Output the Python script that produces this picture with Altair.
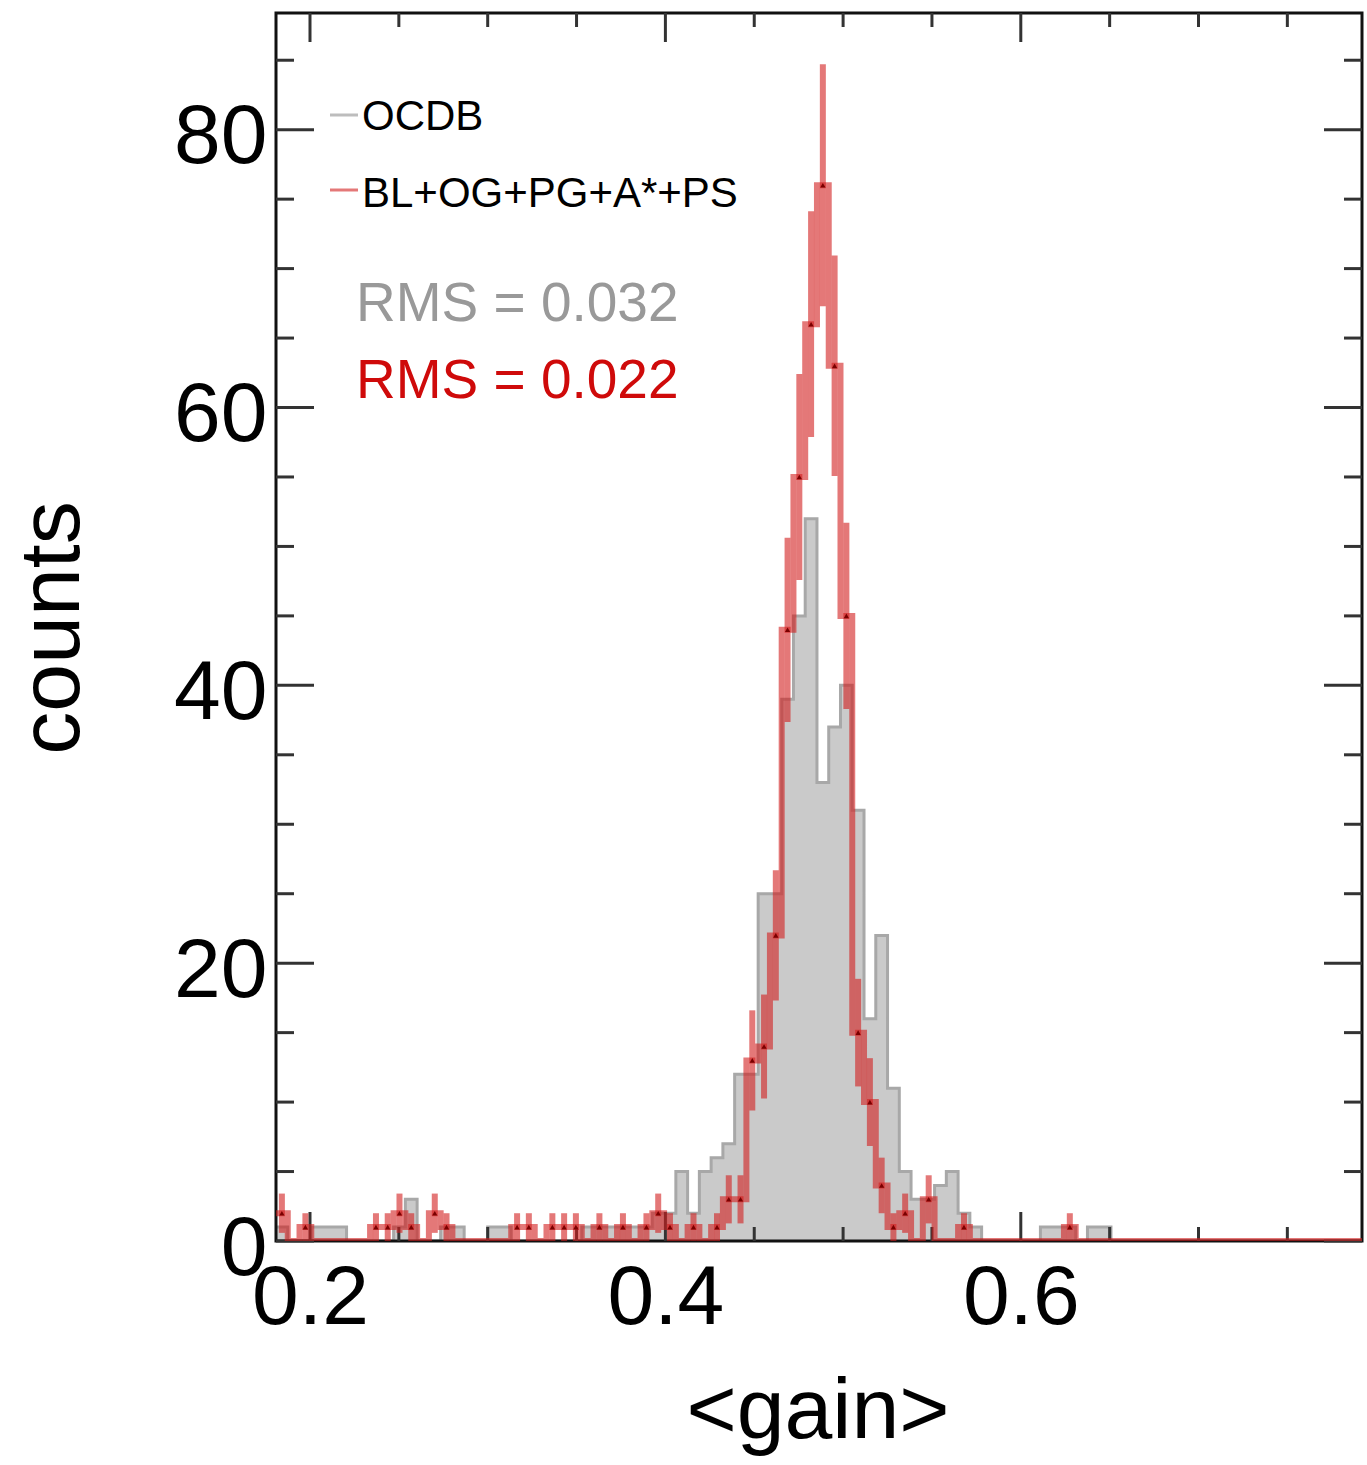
import altair as alt
import pandas as pd

# ---------------- data ----------------
BIN_START = 0.18087      # lower edge of the first histogram bin
BIN_WIDTH = 0.006618     # histogram bin width in <gain>
X_DOMAIN = [0.18087, 0.79201]
Y_DOMAIN = [0, 88.4]

# OCDB histogram (grey, filled)
ocdb_counts = [
    1, 0, 0, 1, 1, 1, 0, 0, 0, 0,
    1, 3, 0, 0, 1, 1, 0, 0, 1, 1,
    0, 0, 0, 0, 0, 0, 1, 1, 1, 1,
    1, 1, 2, 2, 5, 2, 5, 6, 7, 12,
    12, 25, 25, 39, 45, 52, 33, 37, 40, 31,
    16, 22, 11, 5, 3, 3, 4, 5, 2, 1,
    0, 0, 0, 0, 0, 1, 1, 1, 0, 1,
    1, 0, 0, 0, 0, 0, 0, 0, 0, 0,
    0, 0, 0, 0, 0, 0, 0, 0, 0, 0,
    0, 0, 0,
]

# BL+OG+PG+A*+PS histogram (red, with Poisson error bars)
corr_counts = [
    2, 0, 1, 0, 0, 0, 0, 0, 1, 1,
    2, 1, 0, 2, 1, 0, 0, 0, 0, 0,
    1, 1, 0, 1, 1, 1, 0, 1, 0, 1,
    0, 1, 2, 1, 0, 1, 0, 1, 3, 3,
    13, 14, 22, 44, 55, 66, 76, 63, 45, 15,
    10, 4, 1, 2, 0, 3, 0, 0, 1, 0,
    0, 0, 0, 0, 0, 0, 0, 1, 0, 0,
    0, 0, 0, 0, 0, 0, 0, 0, 0, 0,
    0, 0, 0, 0, 0, 0, 0, 0, 0, 0,
    0, 0, 0,
]

x_major = [0.2, 0.4, 0.6]
x_minor = [0.25, 0.30, 0.35, 0.45, 0.50, 0.55, 0.65, 0.70, 0.75]
y_major = [0, 20, 40, 60, 80]
y_minor = [5, 10, 15, 25, 30, 35, 45, 50, 55, 65, 70, 75, 85]

legend_labels = ["OCDB", "BL+OG+PG+A*+PS"]
rms_labels = ["RMS = 0.032", "RMS = 0.022"]

# ---------------- layout / style ----------------
W, H = 1086, 1228
FONT = "Liberation Sans"
RED = "#d21e1e"
RED_OP = 0.6
GREY_FILL = "#cacaca"
GREY_LINE = "#a8a8a8"
TICK_COLOR = "#333333"

n = len(ocdb_counts)
edges = [BIN_START + i * BIN_WIDTH for i in range(n + 1)]
step_df = pd.DataFrame({
    "edge": edges,
    "ocdb": ocdb_counts + [ocdb_counts[-1]],
    "corr": corr_counts + [corr_counts[-1]],
})
bins_df = pd.DataFrame({
    "center": [BIN_START + (i + 0.5) * BIN_WIDTH for i in range(n)],
    "corr": corr_counts,
})

xs = alt.Scale(domain=X_DOMAIN, nice=False, zero=False)
ys = alt.Scale(domain=Y_DOMAIN, nice=False, zero=False)

x_axis = alt.Axis(
    values=x_major, format=".1f", title="<gain>",
    domain=False, ticks=False, grid=False,
    labelFont=FONT, labelFontSize=84, labelColor="black",
    labelPadding=16, labelBaseline="top", labelAlign="center",
    labelFlush=False, labelOverlap=False,
    titleFont=FONT, titleFontSize=86, titleFontWeight="normal", titleColor="black",
    titleX=541.5, titleY=196, titleAlign="center", titleBaseline="alphabetic",
)
y_axis = alt.Axis(
    values=y_major, format="d", title="counts",
    domain=False, ticks=False, grid=False,
    labelFont=FONT, labelFontSize=84, labelColor="black",
    labelPadding=9, labelAlign="right", labelBaseline="alphabetic", labelOffset=33,
    labelFlush=False, labelOverlap=False,
    titleFont=FONT, titleFontSize=86, titleFontWeight="normal", titleColor="black",
    titleAngle=270, titleX=-198, titleY=614.5, titleAlign="center",
    titleBaseline="alphabetic",
)


def X(field):
    return alt.X(field, scale=xs, axis=x_axis)


def Y(field):
    return alt.Y(field, scale=ys, axis=y_axis)


# grey OCDB histogram
grey_area = alt.Chart(step_df).mark_area(
    interpolate="step-after", color=GREY_FILL, clip=True
).encode(x=X("edge:Q"), y=Y("ocdb:Q"))
grey_line = alt.Chart(step_df).mark_line(
    interpolate="step-after", color=GREY_LINE, strokeWidth=3, clip=True
).encode(x=X("edge:Q"), y=Y("ocdb:Q"))

one = pd.DataFrame({"k": [0]})
frame = alt.Chart(one).mark_rect(
    fillOpacity=0, stroke="#111111", strokeWidth=3
).encode(
    x=alt.value(0), x2=alt.value(W), y=alt.value(0), y2=alt.value(H)
)


def xticks(vals, length):
    df = pd.DataFrame({"edge": vals})
    bottom = alt.Chart(df).mark_rule(color=TICK_COLOR, strokeWidth=3).encode(
        x=X("edge:Q"), y=alt.value(H), y2=alt.value(H - length)
    )
    top = alt.Chart(df).mark_rule(color=TICK_COLOR, strokeWidth=3).encode(
        x=X("edge:Q"), y=alt.value(0), y2=alt.value(length)
    )
    return [bottom, top]


def yticks(vals, length):
    df = pd.DataFrame({"ocdb": vals})
    left = alt.Chart(df).mark_rule(color=TICK_COLOR, strokeWidth=3).encode(
        y=Y("ocdb:Q"), x=alt.value(0), x2=alt.value(length)
    )
    right = alt.Chart(df).mark_rule(color=TICK_COLOR, strokeWidth=3).encode(
        y=Y("ocdb:Q"), x=alt.value(W - length), x2=alt.value(W)
    )
    return [left, right]


tick_layers = (xticks(x_major, 29) + xticks(x_minor, 14)
               + yticks(y_major, 38) + yticks(y_minor, 18))

# red histogram: step outline, error bars, markers
red_line = alt.Chart(step_df).mark_line(
    interpolate="step-after", color=RED, opacity=RED_OP, strokeWidth=6, clip=True
).encode(x=X("edge:Q"), y=Y("corr:Q"))
red_err = alt.Chart(bins_df).transform_filter("datum.corr > 0").transform_calculate(
    lo="max(0, datum.corr - sqrt(datum.corr))",
    hi="datum.corr + sqrt(datum.corr)",
).mark_rule(color=RED, opacity=RED_OP, strokeWidth=6).encode(
    x=X("center:Q"), y=Y("lo:Q"), y2="hi:Q",
)
red_pts = alt.Chart(bins_df).transform_filter("datum.corr > 0").mark_point(
    shape="triangle-up", filled=True, size=28, color="#7a0000", opacity=1
).encode(x=X("center:Q"), y=Y("corr:Q"))

# legend
leg_grey_line = alt.Chart(one).mark_rule(color="#bdbdbd", strokeWidth=3).encode(
    x=alt.value(54), x2=alt.value(82), y=alt.value(102)
)
leg_red_line = alt.Chart(one).mark_rule(color=RED, opacity=RED_OP, strokeWidth=3).encode(
    x=alt.value(54), x2=alt.value(82), y=alt.value(177)
)


def label(text, x, y, size, color):
    return alt.Chart(pd.DataFrame({"t": [text]})).mark_text(
        font=FONT, fontSize=size, color=color, align="left", baseline="alphabetic"
    ).encode(x=alt.value(x), y=alt.value(y), text="t:N")


texts = [
    label(legend_labels[0], 86, 117, 42, "black"),
    label(legend_labels[1], 86, 194, 42, "black"),
    label(rms_labels[0], 80, 308, 55, "#999999"),
    label(rms_labels[1], 80, 385, 55, "#cf0a0a"),
]

chart = alt.layer(
    grey_area, grey_line, frame, *tick_layers,
    red_line, red_err, red_pts,
    leg_grey_line, leg_red_line, *texts,
).properties(
    width=W, height=H,
    padding={"left": 276, "top": 13, "right": 5, "bottom": 224},
    autosize=alt.AutoSizeParams(type="none"),
    background="white",
).configure_view(stroke=None)

chart.save("out.html", embed_options={"renderer": "svg", "actions": False})
